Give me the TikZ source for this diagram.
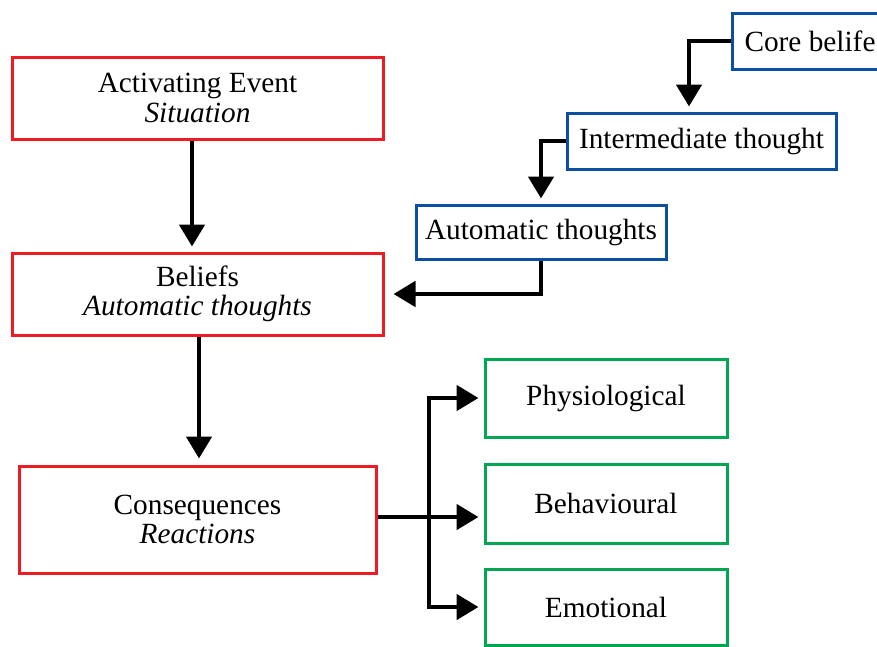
\documentclass[tikz,border=0pt]{standalone}
\usepackage{fontspec}
\setmainfont{Liberation Serif}
\usetikzlibrary{arrows.meta,calc}
\definecolor{cbtred}{HTML}{ED1C24}
\definecolor{cbtblue}{HTML}{0B4EA2}
\definecolor{cbtgreen}{HTML}{00A651}
\tikzset{
  txt/.style={font=\fontsize{29.3}{29.5}\selectfont, align=center, inner sep=0pt},
  redbox/.style={txt, draw=cbtred, line width=3pt},
  bluebox/.style={txt, draw=cbtblue, line width=3pt},
  greenbox/.style={txt, draw=cbtgreen, line width=3pt},
  arr/.style={line width=4.8pt, -{Triangle[length=22pt,width=25pt]}},
  ln/.style={line width=4.8pt}
}
\begin{document}
\begin{tikzpicture}[x=1pt,y=-1pt]
\useasboundingbox (0,0) rectangle (877,646);
\clip (0,0) rectangle (877,646);
% red boxes
\node[redbox, minimum width=371pt, minimum height=82pt] (act) at (197.5,98) {Activating Event\\\textit{Situation}};
\node[redbox, minimum width=371pt, minimum height=82pt] (bel) at (197.5,294) {Beliefs\\\textit{Automatic thoughts}};
\node[redbox, minimum width=357pt, minimum height=107pt] (cons) at (197.5,519.5) {Consequences\\\textit{Reactions}};
% blue boxes
\node[bluebox, anchor=west, minimum height=56pt, inner xsep=12pt] (core) at (731,41) {Core belife};
\node[bluebox, minimum width=269pt, minimum height=56pt] (inter) at (701.5,141) {Intermediate thought};
\node[bluebox, minimum width=250pt, minimum height=54pt] (auto) at (541,232) {Automatic thoughts};
% green boxes
\node[greenbox, minimum width=242pt, minimum height=78pt] (phys) at (606,398) {Physiological};
\node[greenbox, minimum width=242pt, minimum height=79pt] (beh) at (606,503.5) {Behavioural};
\node[greenbox, minimum width=242pt, minimum height=76pt] (emo) at (606,607) {Emotional};
% red chain arrows
\draw[arr, shorten >=5pt] ([xshift=-5.5pt]act.south) -- ([xshift=-5.5pt]bel.north);
\draw[arr, shorten >=6pt] ([xshift=1.5pt]bel.south) -- ([xshift=1.5pt]cons.north);
% blue chain arrows
\draw[arr, shorten >=5pt] (core.west) -| ([xshift=-12.5pt]inter.north);
\draw[arr, shorten >=5pt] (inter.west) -| (auto.north);
\draw[arr, shorten >=9pt] (auto.south) |- (bel.east);
% consequences branches
\coordinate (j) at (429,517);
\draw[arr, shorten >=5pt] (cons.east |- j) -- (j -| beh.west);
\draw[arr, shorten >=5pt] (j) |- (phys.west);
\draw[arr, shorten >=5pt] (j) |- (emo.west);
\end{tikzpicture}
\end{document}
